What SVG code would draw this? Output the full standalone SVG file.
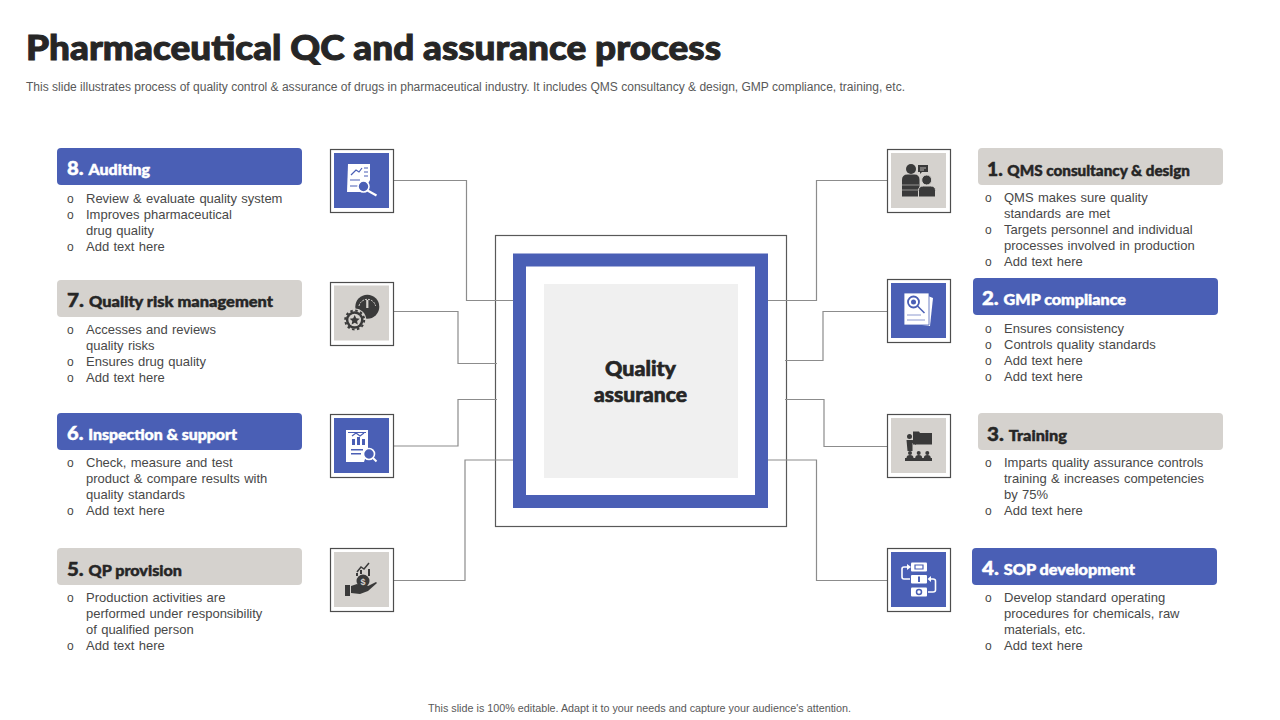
<svg xmlns="http://www.w3.org/2000/svg" width="1280" height="720" viewBox="0 0 1280 720">
<style>
text{font-family:"Liberation Sans",Arial,sans-serif}
.h{font-family:Lato,"Liberation Sans",sans-serif;font-weight:900;font-size:15px;stroke-width:.45px}
.n{font-size:19px}
.hb{fill:#4a5fb5}.hg{fill:#d5d2ce}
.tw{fill:#fff;stroke:#fff}.td{fill:#262626;stroke:#262626}
.b{font-size:13px;fill:#484848;word-spacing:.7px}
.o{font-size:12px;fill:#484848}
.fr{fill:#fff;stroke:#4d4d4d;stroke-width:1.2}
.w{fill:#fff}.k{fill:#3a3a3a}.bl{fill:#4a5fb5}
.sw{fill:none;stroke:#fff;stroke-width:1.6}
.sb{fill:none;stroke:#4a5fb5;stroke-width:1.2}
.c{fill:none;stroke:#8c8c8c;stroke-width:1.2}
</style>
<rect width="1280" height="720" fill="#fff"/>
<text id="title" x="26" y="60" textLength="695" lengthAdjust="spacingAndGlyphs" style="font-family:Lato,'Liberation Sans',sans-serif;font-weight:900;font-size:35px;fill:#262626;stroke:#262626;stroke-width:1px">Pharmaceutical QC and assurance process</text>
<text id="subtitle" x="26" y="91" textLength="879" lengthAdjust="spacingAndGlyphs" style="font-size:12px;fill:#595959">This slide illustrates process of quality control &amp; assurance of drugs in pharmaceutical industry. It includes QMS consultancy &amp; design, GMP compliance, training, etc.</text>

<g id="center">
<rect x="495.5" y="235.5" width="291" height="291" fill="#fff" stroke="#595959" stroke-width="1.2"/>
</g>
<g id="connectors">
<path class="c" d="M394 180.500H466.500V300.500H513"/>
<path class="c" d="M394 311.500H458V363.500H497"/>
<path class="c" d="M394 446H458V399.500H497"/>
<path class="c" d="M394 580.500H465V460H513"/>
<path class="c" d="M887 180.500H816.500V300.500H768"/>
<path class="c" d="M888 311.500H823V360.500H785"/>
<path class="c" d="M888 446.500H824V399.500H785"/>
<path class="c" d="M888 580.500H816.500V460H768"/>
</g>
<g id="center-core">
<rect x="519.500" y="260" width="242" height="241.500" fill="#fff" stroke="#4a5fb5" stroke-width="13"/>
<rect x="544" y="284" width="194" height="194" fill="#f0f0f0"/>
<text x="640.500" y="376" text-anchor="middle" textLength="71" lengthAdjust="spacingAndGlyphs" class="h td" style="font-size:20px;stroke-width:.6px">Quality</text>
<text x="640.500" y="401.500" text-anchor="middle" textLength="93" lengthAdjust="spacingAndGlyphs" class="h td" style="font-size:20px;stroke-width:.6px">assurance</text>
</g>

<g id="node-8">
<rect class="hb" x="57" y="148" width="245" height="37" rx="4"/>
<text class="h tw" x="67" y="175" textLength="83" lengthAdjust="spacingAndGlyphs"><tspan class="n">8. </tspan>Auditing</text>
<text class="o" x="67" y="203">o</text><text class="b" x="86" y="203">Review &amp; evaluate quality system</text>
<text class="o" x="67" y="219">o</text><text class="b" x="86" y="219">Improves pharmaceutical</text>
<text class="b" x="86" y="235">drug quality</text>
<text class="o" x="67" y="251">o</text><text class="b" x="86" y="251">Add text here</text>
<rect class="fr" x="330.500" y="149.500" width="63" height="63"/>
<rect class="bl" x="334" y="153" width="55" height="55"/>
<path class="w" d="M348 164H370V180L363 192H347Z"/>
<path class="sb" d="M351 175l5-5 3 2 3-4M364 168h4M364 172h4M364 176h4M350 180h10M350 186h8"/>
<circle cx="363.500" cy="186.500" r="5.500" fill="#4a5fb5" stroke="#fff" stroke-width="1.600"/>
<path d="M367.500 190.500L376.500 195.500" stroke="#fff" stroke-width="2.200"/>
</g>

<g id="node-7">
<rect class="hg" x="57" y="280" width="245" height="37" rx="4"/>
<text class="h td" x="67" y="306.500" textLength="206" lengthAdjust="spacingAndGlyphs"><tspan class="n">7. </tspan>Quality risk management</text>
<text class="o" x="67" y="334">o</text><text class="b" x="86" y="334">Accesses and reviews</text>
<text class="b" x="86" y="350">quality risks</text>
<text class="o" x="67" y="366">o</text><text class="b" x="86" y="366">Ensures drug quality</text>
<text class="o" x="67" y="382">o</text><text class="b" x="86" y="382">Add text here</text>
<rect class="fr" x="330.500" y="282.500" width="63" height="63"/>
<rect class="hg" x="334" y="285.500" width="55" height="55"/>
<circle class="k" cx="367.300" cy="306.700" r="12"/>
<path d="M359 306a8.500 8.500 0 0 1 16.600 0" fill="none" stroke="#d5d2ce" stroke-width="1" stroke-dasharray="2 1"/>
<path d="M367.300 300v8" stroke="#d5d2ce" stroke-width="2.200"/>
<circle cx="354.700" cy="320" r="11.500" fill="#d5d2ce"/>
<circle class="k" cx="354.700" cy="320" r="8.800"/>
<circle cx="354.700" cy="320" r="9.500" fill="none" stroke="#3a3a3a" stroke-width="2" stroke-dasharray="2.500 2.500"/>
<circle cx="354.700" cy="320" r="6.300" fill="#d5d2ce"/>
<path class="k" d="M354.700 315l1.500 3.300 3.500.4-2.600 2.400.7 3.500-3.100-1.800-3.100 1.800.7-3.500-2.600-2.400 3.500-.4z"/>
</g>

<g id="node-6">
<rect class="hb" x="57" y="413" width="245" height="37" rx="4"/>
<text class="h tw" x="67" y="440" textLength="170" lengthAdjust="spacingAndGlyphs"><tspan class="n">6. </tspan>Inspection &amp; support</text>
<text class="o" x="67" y="467">o</text><text class="b" x="86" y="467">Check, measure and test</text>
<text class="b" x="86" y="483">product &amp; compare results with</text>
<text class="b" x="86" y="499">quality standards</text>
<text class="o" x="67" y="515">o</text><text class="b" x="86" y="515">Add text here</text>
<rect class="fr" x="330.500" y="414.500" width="63" height="63"/>
<rect class="bl" x="334" y="418" width="55" height="55"/>
<path class="w" d="M346 430H368V450L364 462H346Z"/>
<path class="sb" d="M348 432.500h18M352 436l4-3 4 3 4-3"/>
<path class="bl" d="M352 445h3v-6h-3zM357 445h3v-8h-3zM362 445h3v-6h-3zM351 449h12v1.500h-12zM351 453h10v1.500h-10z"/>
<circle cx="369" cy="454" r="5.500" fill="#4a5fb5" stroke="#fff" stroke-width="1.600"/>
<path d="M373 458l3.500 3.500" stroke="#fff" stroke-width="2"/>
</g>

<g id="node-5">
<rect class="hg" x="57" y="548" width="245" height="37" rx="4"/>
<text class="h td" x="67" y="575.500" textLength="115" lengthAdjust="spacingAndGlyphs"><tspan class="n">5. </tspan>QP provision</text>
<text class="o" x="67" y="602">o</text><text class="b" x="86" y="602">Production activities are</text>
<text class="b" x="86" y="618">performed under responsibility</text>
<text class="b" x="86" y="634">of qualified person</text>
<text class="o" x="67" y="650">o</text><text class="b" x="86" y="650">Add text here</text>
<rect class="fr" x="330.500" y="548.500" width="63" height="63"/>
<rect class="hg" x="334" y="552" width="55" height="55"/>
<rect class="k" x="345" y="585" width="5" height="11"/>
<path class="k" d="M351 586l6-2 7 2h4l8-4 1 1-9 8-8 3-9-1z"/>
<circle class="k" cx="363" cy="581" r="6.500"/>
<text x="363" y="584.500" text-anchor="middle" style="font-size:9px;font-weight:700;fill:#d5d2ce">$</text>
<path d="M357 572l4-5 3 2 5-6" fill="none" stroke="#3a3a3a" stroke-width="1.500"/>
<path class="k" d="M356 573h2v3h-2zM360 570h2v4h-2zM368 569h2v7h-2z"/>
</g>

<g id="node-1">
<rect class="hg" x="978" y="148" width="245" height="37" rx="4"/>
<text class="h td" x="987" y="175.500" textLength="203" lengthAdjust="spacingAndGlyphs"><tspan class="n">1. </tspan>QMS consultancy &amp; design</text>
<text class="o" x="985" y="202">o</text><text class="b" x="1004" y="202">QMS makes sure quality</text>
<text class="b" x="1004" y="218">standards are met</text>
<text class="o" x="985" y="234">o</text><text class="b" x="1004" y="234">Targets personnel and individual</text>
<text class="b" x="1004" y="250">processes involved in production</text>
<text class="o" x="985" y="266">o</text><text class="b" x="1004" y="266">Add text here</text>
<rect class="fr" x="887.500" y="149.500" width="63" height="63"/>
<rect class="hg" x="891" y="153" width="55" height="55"/>
<circle class="k" cx="911" cy="169" r="5"/>
<path class="k" d="M902 196.500V180q0-5.500 5.500-5.500h7q5 0 5 5.500v16.500z"/>
<path class="k" d="M918 165h10v7h-6l-2 2v-2h-2z"/>
<path d="M920 168h6M920 170h4" stroke="#d5d2ce" stroke-width=".8"/>
<path d="M902 185h17M902 190h17" stroke="#d5d2ce" stroke-width=".6"/>
<circle cx="926.700" cy="180" r="5" fill="#3a3a3a" stroke="#d5d2ce" stroke-width="1"/>
<path class="k" stroke="#d5d2ce" d="M918.500 197v-6.500q0-4.500 5-4.500h7q5 0 5 4.500v6.500z"/>
</g>

<g id="node-2">
<rect class="hb" x="973" y="278" width="245" height="37" rx="4"/>
<text class="h tw" x="982" y="305" textLength="144" lengthAdjust="spacingAndGlyphs"><tspan class="n">2. </tspan>GMP compliance</text>
<text class="o" x="985" y="333">o</text><text class="b" x="1004" y="333">Ensures consistency</text>
<text class="o" x="985" y="349">o</text><text class="b" x="1004" y="349">Controls quality standards</text>
<text class="o" x="985" y="365">o</text><text class="b" x="1004" y="365">Add text here</text>
<text class="o" x="985" y="381">o</text><text class="b" x="1004" y="381">Add text here</text>
<rect class="fr" x="887.500" y="279.500" width="63" height="63"/>
<rect class="bl" x="891" y="283" width="55" height="55"/>
<path class="w" d="M928 296l5 2-3 28-8-1z"/>
<path d="M904 293H929V325H904Z" fill="#fff" stroke="#4a5fb5" stroke-width=".8"/>
<circle cx="913.500" cy="302" r="5.500" fill="none" stroke="#4a5fb5" stroke-width="1.800"/>
<circle cx="913.500" cy="302" r="2.500" fill="#4a5fb5"/>
<path d="M917.500 306l7 7" stroke="#4a5fb5" stroke-width="1.500"/>
<path d="M907 315h14M907 320h18" stroke="#8e9ad0" stroke-width="1.200"/>
</g>

<g id="node-3">
<rect class="hg" x="978" y="413" width="245" height="37" rx="4"/>
<text class="h td" x="987" y="440.500" textLength="80" lengthAdjust="spacingAndGlyphs"><tspan class="n">3. </tspan>Training</text>
<text class="o" x="985" y="467">o</text><text class="b" x="1004" y="467">Imparts quality assurance controls</text>
<text class="b" x="1004" y="483">training &amp; increases competencies</text>
<text class="b" x="1004" y="499">by 75%</text>
<text class="o" x="985" y="515">o</text><text class="b" x="1004" y="515">Add text here</text>
<rect class="fr" x="887.500" y="414.500" width="63" height="63"/>
<rect class="hg" x="891" y="418" width="55" height="55"/>
<circle class="k" cx="909.500" cy="436.500" r="2.500"/>
<path class="k" d="M906.500 440h6l2 1 2 3-1 1-3-2v8h-5zM913 431.500h6l1 1.500h12v11.500h-19z"/>
<path class="k" d="M905 458h27v3h-27z"/>
<circle class="k" cx="910" cy="453" r="2"/><circle class="k" cx="918.700" cy="453" r="2"/><circle class="k" cx="927.300" cy="453" r="2"/>
<path class="k" d="M906.500 458q0-3 3.500-3t3.500 3zM915.200 458q0-3 3.500-3t3.500 3zM923.800 458q0-3 3.500-3t3.500 3z"/>
</g>

<g id="node-4">
<rect class="hb" x="972" y="548" width="245" height="37" rx="4"/>
<text class="h tw" x="982" y="575" textLength="153" lengthAdjust="spacingAndGlyphs"><tspan class="n">4. </tspan>SOP development</text>
<text class="o" x="985" y="602">o</text><text class="b" x="1004" y="602">Develop standard operating</text>
<text class="b" x="1004" y="618">procedures for chemicals, raw</text>
<text class="b" x="1004" y="634">materials, etc.</text>
<text class="o" x="985" y="650">o</text><text class="b" x="1004" y="650">Add text here</text>
<rect class="fr" x="887.500" y="548.500" width="63" height="63"/>
<rect class="bl" x="891" y="552" width="55" height="55"/>
<rect class="w" x="911" y="562.500" width="16" height="9" rx="1"/>
<rect class="w" x="911" y="575" width="16" height="8.500" rx="1"/>
<rect class="w" x="911" y="587.500" width="16" height="9" rx="1"/>
<path class="sb" d="M915 565h8v4h-8z"/>
<path d="M919 576.500v5.500" stroke="#4a5fb5" stroke-width="2"/>
<circle cx="919" cy="592" r="2.500" fill="none" stroke="#4a5fb5" stroke-width="1.500"/>
<path class="sw" d="M910 579H904Q902 579 902 577V569Q902 567 904 567H907"/>
<path class="w" d="M907 564l4 3-4 3z"/>
<path class="sw" d="M928 592H933Q935.500 592 935.500 590V581Q935.500 579 933 579H931"/>
<path class="w" d="M931 576l-3.500 3 3.500 3z"/>
</g>

<text id="footer" x="428" y="712" textLength="423" lengthAdjust="spacingAndGlyphs" style="font-size:10.500px;fill:#595959">This slide is 100% editable. Adapt it to your needs and capture your audience's attention.</text>
</svg>
